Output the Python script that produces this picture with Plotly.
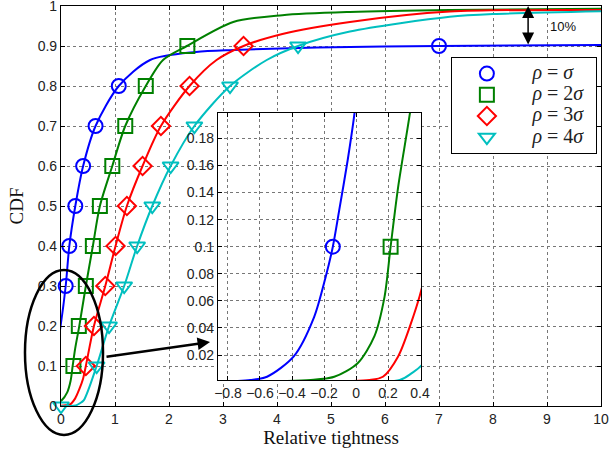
import plotly.graph_objects as go

# ---------------- data ----------------
series_names = ["<i>ρ</i> = <i>σ</i>", "<i>ρ</i> = 2<i>σ</i>", "<i>ρ</i> = 3<i>σ</i>", "<i>ρ</i> = 4<i>σ</i>"]
series_colors = ["#0000FF", "#008000", "#FF0000", "#00BFBF"]
series_symbols = ["circle-open", "square-open", "diamond-open", "triangle-down-open"]

blue_x = [-0.9, -0.66, -0.556, -0.389, -0.262, -0.189, -0.145, -0.105, -0.052, -0.01, 0.087, 0.154, 0.265, 0.41, 0.64, 1.07, 1.65, 2.5, 3.2, 4.74, 7.0, 10]
blue_y = [0, 0.0016, 0.004, 0.019, 0.048, 0.078, 0.1, 0.127, 0.164, 0.198, 0.3, 0.4, 0.5, 0.6, 0.7, 0.8, 0.865, 0.885, 0.89, 0.896, 0.9, 0.9025]

green_x = [-0.9, -0.283, -0.136, 0.01, 0.115, 0.178, 0.216, 0.263, 0.336, 0.46, 0.59, 0.72, 0.95, 1.19, 1.57, 1.89, 2.33, 3.19, 4.1, 5.35, 7.2, 10]
green_y = [0, 0.0016, 0.004, 0.014, 0.034, 0.063, 0.1, 0.144, 0.198, 0.3, 0.4, 0.5, 0.6, 0.7, 0.8, 0.865, 0.9, 0.96, 0.977, 0.985, 0.99, 0.993]

red_x = [-0.9, 0.084, 0.168, 0.263, 0.336, 0.41, 0.46, 0.61, 0.82, 1.01, 1.22, 1.51, 1.85, 2.38, 2.88, 3.38, 4.1, 5.35, 7.2, 10]
red_y = [0, 0.0016, 0.004, 0.019, 0.041, 0.069, 0.1, 0.2, 0.3, 0.4, 0.5, 0.6, 0.7, 0.8, 0.865, 0.9, 0.93, 0.96, 0.986, 0.99]

cyan_x = [-0.9, 0.273, 0.346, 0.42, 0.66, 0.89, 1.17, 1.41, 1.69, 2.03, 2.47, 3.13, 3.81, 4.39, 5.35, 7.2, 8.0, 10]
cyan_y = [0, 0.0016, 0.0065, 0.014, 0.1, 0.2, 0.3, 0.4, 0.5, 0.6, 0.7, 0.8, 0.865, 0.9, 0.936, 0.973, 0.98, 0.987]

# markers on the main axes
blue_mk_x = [0.087, 0.154, 0.265, 0.41, 0.64, 1.07, 7.0]
blue_mk_y = [0.3, 0.4, 0.5, 0.6, 0.7, 0.8, 0.9]
green_mk_x = [0.23, 0.33, 0.46, 0.59, 0.72, 0.95, 1.19, 1.57, 2.34]
green_mk_y = [0.1, 0.2, 0.3, 0.4, 0.5, 0.6, 0.7, 0.8, 0.9]
red_mk_x = [0.46, 0.61, 0.82, 1.01, 1.22, 1.51, 1.85, 2.38, 3.38]
red_mk_y = [0.1, 0.2, 0.3, 0.4, 0.5, 0.6, 0.7, 0.8, 0.9]
cyan_mk_x = [0.0, 0.66, 0.89, 1.17, 1.41, 1.69, 2.03, 2.47, 3.13, 4.39]
cyan_mk_y = [0.0, 0.1, 0.2, 0.3, 0.4, 0.5, 0.6, 0.7, 0.8, 0.9]

# markers visible in the inset
inset_mk_x = [[-0.145], [0.216], [], []]
inset_mk_y = [[0.1], [0.1], [], []]

main_xticks = list(range(0, 11))
main_yticks = [0, 0.1, 0.2, 0.3, 0.4, 0.5, 0.6, 0.7, 0.8, 0.9, 1]
inset_xticks = [-0.8, -0.6, -0.4, -0.2, 0, 0.2, 0.4]
inset_yticks = [0.02, 0.04, 0.06, 0.08, 0.1, 0.12, 0.14, 0.16, 0.18]

curves_x = [blue_x, green_x, red_x, cyan_x]
curves_y = [blue_y, green_y, red_y, cyan_y]
marks_x = [blue_mk_x, green_mk_x, red_mk_x, cyan_mk_x]
marks_y = [blue_mk_y, green_mk_y, red_mk_y, cyan_mk_y]

fig = go.Figure()
for i in range(4):
    fig.add_trace(go.Scatter(x=curves_x[i], y=curves_y[i], mode="lines",
                             line=dict(color=series_colors[i], width=2, shape="spline", smoothing=0.8),
                             showlegend=False, hoverinfo="skip", xaxis="x", yaxis="y"))
for i in range(4):
    label = '\u00a0\u00a0\u00a0<span style="font-size:20px">' + series_names[i] + '</span>\u00a0\u00a0'
    fig.add_trace(go.Scatter(x=marks_x[i], y=marks_y[i], mode="markers", name=label,
                             marker=dict(symbol=series_symbols[i], size=14, color=series_colors[i],
                                         line=dict(width=2, color=series_colors[i])),
                             cliponaxis=False, xaxis="x", yaxis="y"))
# inset
for i in range(4):
    fig.add_trace(go.Scatter(x=curves_x[i], y=curves_y[i], mode="lines",
                             line=dict(color=series_colors[i], width=2, shape="spline", smoothing=0.8),
                             showlegend=False, hoverinfo="skip", xaxis="x2", yaxis="y2"))
    if inset_mk_x[i]:
        fig.add_trace(go.Scatter(x=inset_mk_x[i], y=inset_mk_y[i], mode="markers",
                                 marker=dict(symbol=series_symbols[i], size=14, color=series_colors[i],
                                             line=dict(width=2, color=series_colors[i])),
                                 showlegend=False, xaxis="x2", yaxis="y2"))

tickfont = dict(family="Liberation Sans, Arial", size=14, color="#222")
grid = dict(showgrid=True, gridcolor="#777", griddash="dot", gridwidth=1,
            showline=True, linecolor="black", linewidth=1.2, mirror="allticks",
            ticks="inside", ticklen=4, tickcolor="black", zeroline=False, tickfont=tickfont,
            ticklabeloverflow="allow", automargin=False)

fig.update_layout(
    width=610, height=456,
    margin=dict(l=61, r=9, t=6, b=50, autoexpand=False),
    paper_bgcolor="white", plot_bgcolor="white",
    xaxis=dict(range=[0, 10], tickvals=main_xticks, domain=[0, 1],
               title=dict(text="Relative tightness", font=dict(family="Liberation Serif, serif", size=19, color="#111"), standoff=4),
               **grid),
    yaxis=dict(range=[0, 1], tickvals=main_yticks, domain=[0, 1],
               title=dict(text="CDF", font=dict(family="Liberation Serif, serif", size=19, color="#111"), standoff=8),
               **grid),
    xaxis2=dict(range=[-0.8625, 0.406], tickvals=inset_xticks, domain=[0.2907, 0.6667], anchor="y2", **grid),
    yaxis2=dict(range=[0.0016, 0.1987], tickvals=inset_yticks, domain=[0.065, 0.7325], anchor="x2", **grid),
    legend=dict(x=0.722, y=0.8725, xanchor="left", yanchor="top", bgcolor="white",
                bordercolor="black", borderwidth=1, itemwidth=60, tracegroupgap=0,
                font=dict(family="Liberation Serif, serif", size=14, color="#222")),
    showlegend=True,
)

# ellipse around the origin
fig.add_shape(type="circle", xref="paper", yref="paper",
              x0=-0.0667, x1=0.0778, y0=-0.0725, y1=0.34,
              line=dict(color="black", width=2.5), layer="above")

# arrow from ellipse to inset
fig.add_annotation(x=2.76, y=0.16, ax=0.815, ay=0.1225, xref="x", yref="y", axref="x", ayref="y",
                   text="", showarrow=True, arrowhead=2, arrowsize=1, arrowwidth=2.5, arrowcolor="black")

# double arrow for the 10% gap
fig.add_annotation(x=8.65, y=1.0, ax=8.65, ay=0.9, xref="x", yref="y", axref="x", ayref="y",
                   text="", showarrow=True, arrowhead=2, startarrowhead=2, arrowside="end+start",
                   arrowsize=1.6, startarrowsize=1.6, arrowwidth=1.5, arrowcolor="black")
fig.add_annotation(x=9.3, y=0.95, xref="x", yref="y", text="10%", showarrow=False,
                   font=dict(family="Liberation Sans, Arial", size=13, color="#111"))

fig.write_html("out.html")
